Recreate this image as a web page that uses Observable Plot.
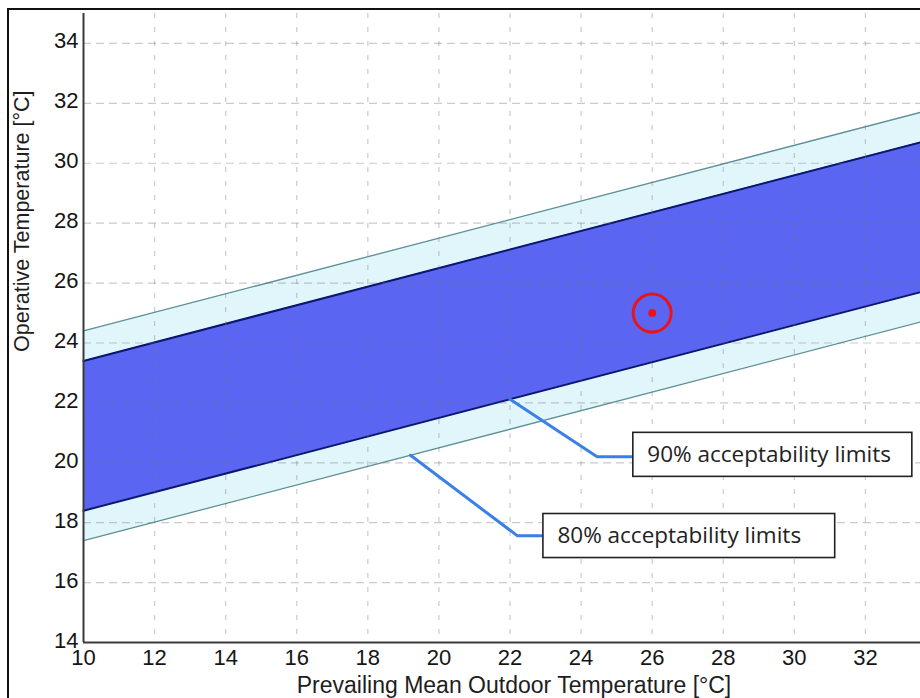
<!DOCTYPE html>
<html><head><meta charset="utf-8">
<script src="https://cdn.jsdelivr.net/npm/d3@7"></script>
<script src="https://cdn.jsdelivr.net/npm/@observablehq/plot@0.6"></script>
<style>
body{margin:0;background:#fff;}
#wrap{position:relative;width:920px;height:698px;overflow:hidden;background:#fff;}
#chart{position:absolute;left:0;top:0;}
#frame{position:absolute;left:7px;top:8px;width:930px;height:710px;border-top:2px solid #111;border-left:2px solid #111;pointer-events:none;}
</style></head><body>
<div id="wrap"><div id="chart"></div><div id="frame"></div></div>
<script>
// Band edges read at the left and right ends of the chart (straight lines)
const xEnds   = [10, 33.55];
const lower80 = [17.4, 24.7];
const lower90 = [18.4, 25.7];
const upper90 = [23.4, 30.7];
const upper80 = [24.4, 31.7];

// Marked operating point
const pointX = [26];
const pointY = [25];

// Tick values
const xTicks = [10, 12, 14, 16, 18, 20, 22, 24, 26, 28, 30, 32];
const yTicks = [14, 16, 18, 20, 22, 24, 26, 28, 30, 32, 34];

// Annotation leaders (data coordinates)
const leader90X = [22.0, 24.45, 25.5];
const leader90Y = [22.12, 20.2, 20.2];
const leader80X = [19.2, 22.21, 22.94];
const leader80Y = [20.25, 17.56, 17.56];

// Annotation boxes
const boxLabels = ["90% acceptability limits", "80% acceptability limits"];
const boxX1 = [25.47, 22.94];
const boxX2 = [33.32, 31.15];
const boxY1 = [19.53, 16.82];
const boxY2 = [21.0, 18.29];

const xLabel = "Prevailing Mean Outdoor Temperature [°C]";
const yLabel = "Operative Temperature [°C]";

const bands = xEnds.map((x, i) => ({x, lo80: lower80[i], lo90: lower90[i], hi90: upper90[i], hi80: upper80[i]}));
const points = pointX.map((x, i) => ({x, y: pointY[i]}));
const lead90 = leader90X.map((x, i) => ({x, y: leader90Y[i]}));
const lead80 = leader80X.map((x, i) => ({x, y: leader80Y[i]}));
const boxes = boxLabels.map((label, i) => ({label, x1: boxX1[i], x2: boxX2[i], y1: boxY1[i], y2: boxY2[i], ym: (boxY1[i] + boxY2[i]) / 2}));

const gridX = {stroke: "#777", strokeOpacity: 0.38, strokeDasharray: "5,9", strokeWidth: 1.2};
const gridY = {stroke: "#777", strokeOpacity: 0.38, strokeDasharray: "8,5", strokeWidth: 1.2};

const chart = Plot.plot({
  width: 920,
  height: 698,
  marginLeft: 83,
  marginTop: 13,
  marginBottom: 56,
  marginRight: 0,
  x: {domain: [10, 33.55]},
  y: {domain: [14, 35]},
  style: {fontFamily: "'Liberation Sans', Arial, sans-serif", fontSize: "22px", color: "#151515", background: "transparent"},
  marks: [
    Plot.areaY(bands, {x: "x", y1: "lo80", y2: "hi80", fill: "#e0f6fb"}),
    Plot.areaY(bands, {x: "x", y1: "lo90", y2: "hi90", fill: "#5a66f2"}),
    Plot.line(bands, {x: "x", y: "lo80", stroke: "#5f8f96", strokeWidth: 1.3}),
    Plot.line(bands, {x: "x", y: "hi80", stroke: "#5f8f96", strokeWidth: 1.3}),
    Plot.line(bands, {x: "x", y: "lo90", stroke: "#0b1670", strokeWidth: 2}),
    Plot.line(bands, {x: "x", y: "hi90", stroke: "#0b1670", strokeWidth: 2}),
    Plot.gridX(xTicks.filter(d => d > 10), gridX),
    Plot.gridY(yTicks.filter(d => d > 14), gridY),
    Plot.line(lead90, {x: "x", y: "y", stroke: "#3a80e8", strokeWidth: 3}),
    Plot.line(lead80, {x: "x", y: "y", stroke: "#3a80e8", strokeWidth: 3}),
    Plot.rect(boxes, {x1: "x1", x2: "x2", y1: "y1", y2: "y2", fill: "white", stroke: "#222", strokeWidth: 1.6}),
    Plot.text(boxes, {x: "x1", y: "ym", text: "label", textAnchor: "start", dx: 14, fontFamily: "'Open Sans', Lato, sans-serif", fontSize: 22.5, fill: "#222"}),
    Plot.dot(points, {x: "x", y: "y", r: 19, stroke: "#e8141c", strokeWidth: 3, fill: "none"}),
    Plot.dot(points, {x: "x", y: "y", r: 4, fill: "#e8141c"}),
    Plot.ruleX([10], {stroke: "#3a3a3a", strokeWidth: 2}),
    Plot.ruleY([14], {stroke: "#3a3a3a", strokeWidth: 2}),
    Plot.axisX(xTicks, {tickSize: 0, tickPadding: 7, label: null, fontSize: 22}),
    Plot.axisY(yTicks, {tickSize: 0, tickPadding: 5, label: null, fontSize: 22, dy: -2}),
    Plot.text([xLabel], {frameAnchor: "bottom", dx: 12, dy: 43, lineAnchor: "middle", fontSize: 23, fill: "#1e1e1e"}),
    Plot.text([yLabel], {frameAnchor: "left", dx: -61, dy: 24, rotate: -90, lineAnchor: "middle", fontSize: 21.5, fill: "#1e1e1e"})
  ]
});
document.getElementById("chart").appendChild(chart);
</script>
</body></html>
